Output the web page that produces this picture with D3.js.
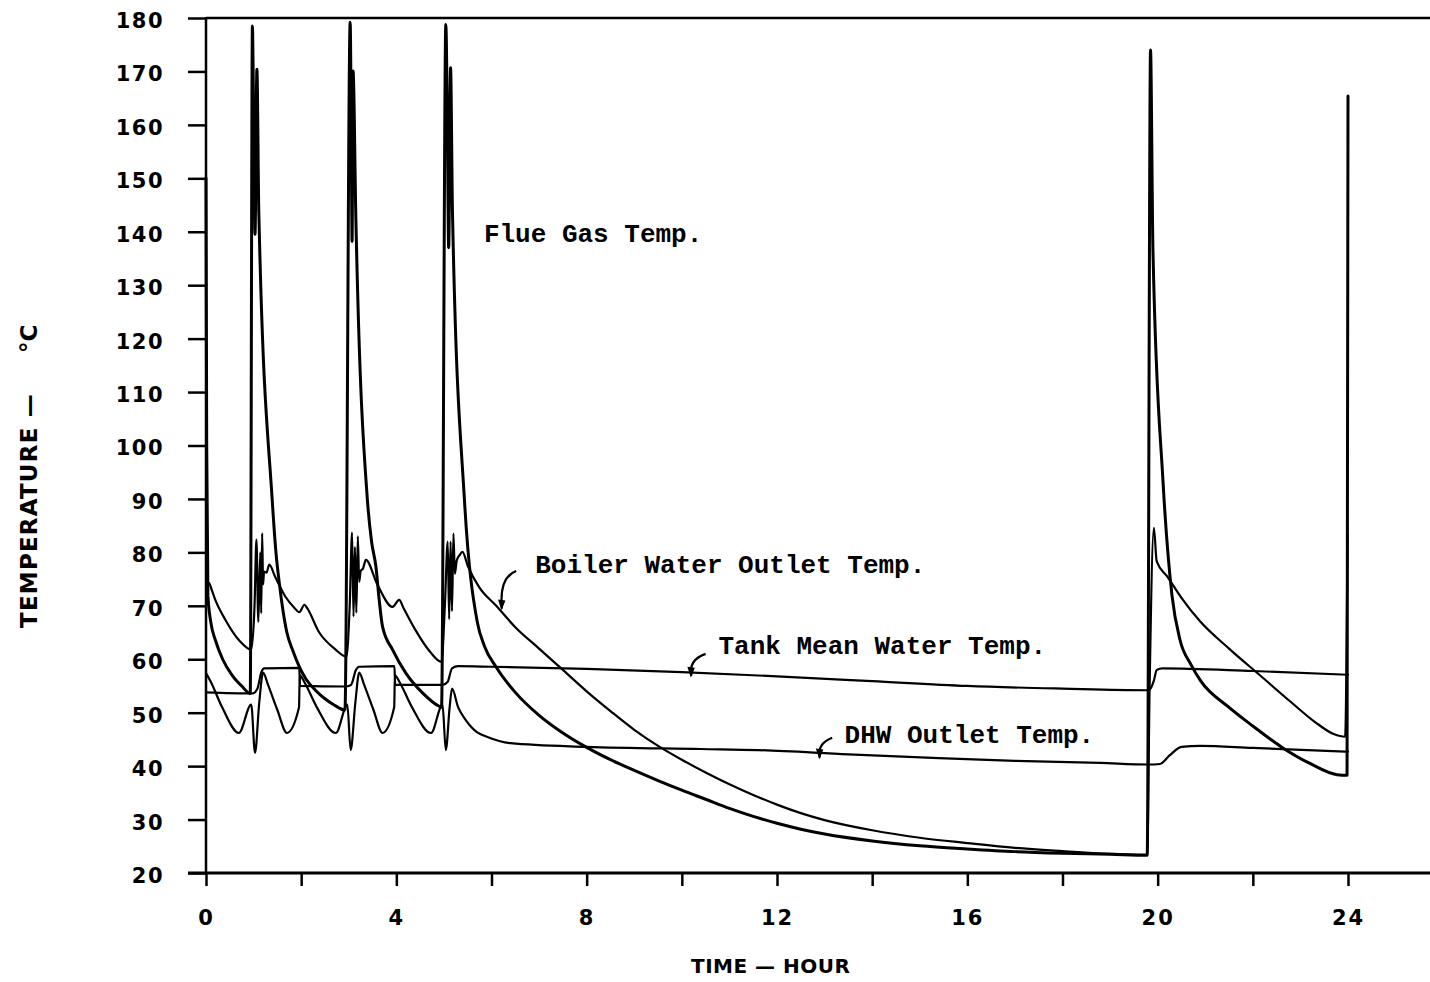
<!DOCTYPE html>
<html>
<head>
<meta charset="utf-8">
<script src="https://cdn.jsdelivr.net/npm/d3@7"></script>
<style>
  body { margin: 0; background: #fff; }
  .tick text { font-family: "DejaVu Sans", sans-serif; font-weight: bold; }
</style>
</head>
<body>
<svg id="chart" width="1430" height="982"></svg>
<script>
// hours, deg C
const flueGas = [
  [0,150],[0.015,100],[0.04,72],[0.1,67],[0.2,63.5],[0.35,60],[0.55,57],[0.75,55],[0.93,53.6],
  [0.975,178.5],[1.0,162],[1.03,139.5],[1.07,170.4],[1.11,143.6],[1.39,90],[1.47,80],[1.54,74.3],
  [1.62,69],[1.7,65],[1.83,61.5],[1.96,58.6],[2.1,56.3],[2.3,54.2],[2.5,52.6],[2.7,51.4],[2.92,50.5],
  [3.03,179.2],[3.05,163],[3.07,138.2],[3.09,170.1],[3.15,142.3],[3.39,90],[3.48,82],[3.57,77.4],
  [3.64,71.1],[3.71,66.1],[3.92,61.8],[4.2,57.4],[4.55,53.7],[4.9,51.2],[4.95,51],
  [5.04,178.8],[5.07,163],[5.1,137],[5.14,170.7],[5.18,143.6],[5.43,90],[5.7,67],[5.85,62.5],
  [6.1,58.5],[6.5,53.8],[7,49.5],[7.5,46.2],[8,43.5],[8.5,41.2],[9,39.2],[9.5,37.3],[10,35.5],
  [10.5,33.8],[11,32.1],[11.5,30.6],[12,29.3],[12.5,28.2],[13,27.3],[14,26],[15,25.1],[16,24.5],
  [17,24],[18,23.7],[19,23.5],[19.78,23.3],[19.85,174],[19.9,137],[20.11,93.6],[20.3,72],
  [20.47,63.6],[20.7,59],[20.9,56],[21.5,51],[22,47.5],[22.6,43.6],[23.2,40.5],[23.77,38.4],
  [23.98,38.3],[24.0,165.4]
];

const boilerOutlet = [
  [0,73],[0.06,74.3],[0.12,73],[0.2,71],[0.4,67.5],[0.7,63.5],[0.95,61.8],[1.02,70],[1.06,82.4],
  [1.1,67],[1.14,80],[1.16,68.6],[1.18,83.6],[1.2,74],[1.22,76.4],[1.27,76.2],[1.33,77.7],[1.45,75.5],
  [1.67,71.7],[1.85,69.7],[1.96,68.8],[2.07,70.2],[2.13,69.5],[2.38,65],[2.7,62],[2.95,60.5],
  [3.02,70],[3.07,83.7],[3.1,68],[3.13,81],[3.16,68.7],[3.19,83],[3.22,74.5],[3.25,76.5],[3.3,77],
  [3.36,78.6],[3.6,74],[3.92,69.8],[4.06,71.1],[4.15,69.6],[4.4,65.5],[4.7,61.5],[4.95,59.5],
  [5.02,70],[5.08,82],[5.11,67.5],[5.14,82],[5.17,69],[5.2,83.5],[5.23,76],[5.27,78.5],[5.33,79.5],
  [5.39,80.1],[5.5,77.5],[5.74,73.5],[6.1,70],[6.5,66],[7,62],[7.5,58],[8,54],[8.5,50.3],[9,46.8],
  [9.5,43.8],[10,41.2],[10.5,38.8],[11,36.6],[11.5,34.6],[12,32.8],[12.5,31.2],[13,29.9],[14,28],
  [15,26.6],[16,25.6],[17,24.7],[18,24.1],[19,23.6],[19.78,23.4],[19.83,54.3],[19.92,84.6],
  [19.98,78.3],[20.2,75.5],[20.5,71.5],[20.9,67],[21.5,62],[22.15,57],[22.8,52],[23.3,48.3],
  [23.7,46],[23.94,45.5],[23.99,83.3]
];

const tankMean = [
  [0,53.8],[0.98,53.6],[1.08,54.5],[1.16,57.5],[1.22,58.3],[1.96,58.4],[1.975,55],[2.95,54.9],
  [3.05,55.2],[3.15,58],[3.22,58.6],[3.96,58.7],[3.975,55.2],[4.97,55.2],[5.08,55.8],[5.17,58.3],
  [5.3,58.7],[6,58.6],[8,58.2],[10,57.6],[12,56.8],[14,55.9],[16,55],[18,54.5],[19.78,54.2],
  [19.84,54.4],[19.92,56],[19.98,58],[20.1,58.3],[22,57.8],[24,57.1]
];

const dhwOutlet = [
  [0,57.4],[0.1,55.8],[0.34,51],[0.69,46.2],[0.95,51.5],[1.03,42.5],[1.12,52],[1.2,57.5],[1.3,55.3],
  [1.5,50.5],[1.7,46.2],[1.955,51],[1.97,57],[2.08,55.5],[2.33,51],[2.73,46.2],[2.97,51.5],[3.04,43],
  [3.14,52],[3.22,57.5],[3.32,55.3],[3.52,50.5],[3.71,46.2],[3.955,51],[3.97,57],[4.08,55.5],
  [4.33,51],[4.73,46.2],[4.97,51.5],[5.04,43],[5.12,51],[5.17,54.5],[5.3,51],[5.46,48.6],[5.7,46.3],
  [5.9,45.5],[6.4,44.3],[8,43.6],[10.4,43.2],[11.6,43],[13.5,42.2],[15.4,41.5],[17,41],[18.8,40.6],
  [19.8,40.3],[20.05,40.4],[20.25,42],[20.5,43.6],[20.9,43.8],[22,43.4],[24,42.7]
];

const hourTicks = [0, 2, 4, 6, 8, 10, 12, 14, 16, 18, 20, 22, 24];
const hourLabels = [0, 4, 8, 12, 16, 20, 24];
const tempTicks = [20, 30, 40, 50, 60, 70, 80, 90, 100, 110, 120, 130, 140, 150, 160, 170, 180];

// annotation text: [label, hour, temp at baseline]
const notes = [
  ['Flue Gas Temp.', 5.84, 138],
  ['Boiler Water Outlet Temp.', 6.92, 76.1],
  ['Tank Mean Water Temp.', 10.77, 60.9],
  ['DHW Outlet Temp.', 13.42, 44.4]
];
// little curved pointers: tail [h, T] -> head [h, T]
const pointers = [
  [[6.52, 76.5], [6.22, 69.5]],
  [[10.5, 61.0], [10.2, 56.9]],
  [[13.16, 45.3], [12.9, 41.6]]
];

const svg = d3.select('#chart');
const width = 1430;

const x = d3.scaleLinear().domain([0, 24]).range([206, 1348]);
const y = d3.scaleLinear().domain([20, 180]).range([873, 18]);

svg.append('rect').attr('width', width).attr('height', 982).attr('fill', '#fff');

// frame
svg.append('line')
  .attr('x1', x(0)).attr('x2', width).attr('y1', y(180)).attr('y2', y(180))
  .attr('stroke', '#000').attr('stroke-width', 2.5);
svg.append('line')
  .attr('x1', x(0)).attr('x2', x(0)).attr('y1', y(180) - 1).attr('y2', y(20))
  .attr('stroke', '#000').attr('stroke-width', 2.5);
svg.append('line')
  .attr('x1', x(0) - 18).attr('x2', width).attr('y1', y(20)).attr('y2', y(20))
  .attr('stroke', '#000').attr('stroke-width', 3);

const yAxis = svg.append('g')
  .attr('transform', `translate(${x(0)},0)`)
  .call(d3.axisLeft(y).tickValues(tempTicks).tickSize(18).tickPadding(24).tickSizeOuter(0));
yAxis.select('.domain').remove();
yAxis.selectAll('.tick line').attr('stroke-width', 2.5);
yAxis.selectAll('.tick text')
  .attr('font-size', 21).attr('letter-spacing', 1.5).attr('dy', '0.45em').attr('fill', '#000');

const xAxis = svg.append('g')
  .attr('transform', `translate(0,${y(20)})`)
  .call(d3.axisBottom(x).tickValues(hourTicks).tickSize(13).tickPadding(39).tickSizeOuter(0)
    .tickFormat(d => hourLabels.includes(d) ? d : ''));
xAxis.select('.domain').remove();
xAxis.selectAll('.tick line').attr('stroke-width', 2.5);
xAxis.selectAll('.tick text')
  .attr('font-size', 21).attr('letter-spacing', 2).attr('fill', '#000').attr('dy', '0');

// axis titles
svg.append('text')
  .attr('x', 691).attr('y', 973)
  .attr('font-family', '"DejaVu Sans", sans-serif').attr('font-weight', 'bold')
  .attr('font-size', 20).attr('letter-spacing', 0.5)
  .text('TIME — HOUR');

svg.append('text')
  .attr('transform', 'translate(37,628) rotate(-90)')
  .attr('font-family', '"DejaVu Sans", sans-serif').attr('font-weight', 'bold')
  .attr('font-size', 23).attr('letter-spacing', 1.2)
  .text('TEMPERATURE —');
svg.append('text')
  .attr('transform', 'translate(37,353) rotate(-90)')
  .attr('font-family', '"DejaVu Sans", sans-serif').attr('font-weight', 'bold')
  .attr('font-size', 23)
  .text('°C');

// curves
const line = d3.line()
  .x(d => x(d[0]))
  .y(d => y(d[1]))
  .curve(d3.curveMonotoneX);

const series = [
  { data: tankMean, w: 2.2 },
  { data: dhwOutlet, w: 2.2 },
  { data: boilerOutlet, w: 2.2 },
  { data: flueGas, w: 3 }
];

svg.selectAll('path.curve')
  .data(series)
  .join('path')
  .attr('class', 'curve')
  .attr('d', d => line(d.data))
  .attr('fill', 'none')
  .attr('stroke', '#000')
  .attr('stroke-width', d => d.w)
  .attr('stroke-linejoin', 'round')
  .attr('stroke-linecap', 'round');

// annotations
svg.selectAll('text.note')
  .data(notes)
  .join('text')
  .attr('class', 'note')
  .attr('x', d => x(d[1]))
  .attr('y', d => y(d[2]))
  .attr('font-family', '"Liberation Mono", "Courier New", monospace')
  .attr('font-weight', 'bold')
  .attr('font-size', 26)
  .text(d => d[0]);

svg.selectAll('path.pointer')
  .data(pointers)
  .join('path')
  .attr('class', 'pointer')
  .attr('d', ([a, b]) => {
    const ax = x(a[0]), ay = y(a[1]), bx = x(b[0]), by = y(b[1]);
    return `M${ax},${ay} Q${bx - 3},${ay + 6} ${bx},${by}`;
  })
  .attr('fill', 'none')
  .attr('stroke', '#000')
  .attr('stroke-width', 2.2);

svg.selectAll('path.head')
  .data(pointers)
  .join('path')
  .attr('class', 'head')
  .attr('d', ([, b]) => {
    const bx = x(b[0]), by = y(b[1]);
    return `M${bx - 4},${by - 9} L${bx + 3.5},${by - 8} L${bx - 0.5},${by + 2} Z`;
  })
  .attr('fill', '#000');
</script>
</body>
</html>
